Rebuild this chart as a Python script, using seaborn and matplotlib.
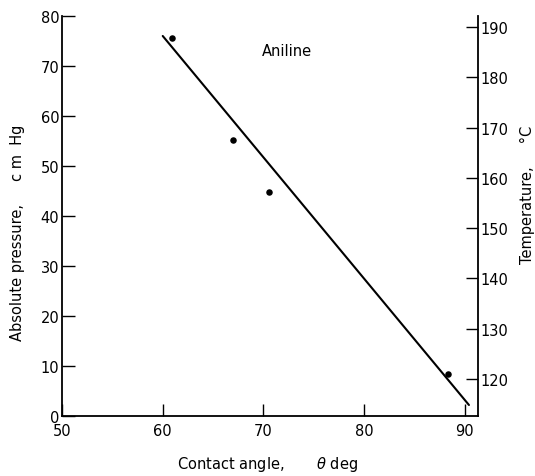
import pandas as pd
import matplotlib.pyplot as plt
import seaborn as sns

# measured points (contact angle, absolute pressure)
angle = [60.9, 67.0, 70.5, 88.3]
pressure = [75.6, 55.2, 44.8, 8.4]

# fitted straight line
line_angle = [60.0, 90.4]
line_pressure = [76.0, 2.2]

x_ticks = [50, 60, 70, 80, 90]
p_ticks = [0, 10, 20, 30, 40, 50, 60, 70, 80]
t_ticks = [120, 130, 140, 150, 160, 170, 180, 190]


def main():
    sns.set_style("ticks")
    plt.rcParams['font.family'] = ['DejaVu Sans']
    plt.rcParams['text.color'] = 'black'
    plt.rcParams['axes.labelcolor'] = 'black'
    plt.rcParams['xtick.color'] = 'black'
    plt.rcParams['ytick.color'] = 'black'
    plt.rcParams['axes.edgecolor'] = 'black'

    pts = pd.DataFrame({'angle': angle, 'pressure': pressure})
    fit = pd.DataFrame({'angle': line_angle, 'pressure': line_pressure})

    fig = plt.figure(figsize=(5.35, 4.77), dpi=100)
    ax = fig.add_axes([0.1159, 0.1258, 0.7776, 0.8386])

    sns.lineplot(data=fit, x='angle', y='pressure', ax=ax, color='black', linewidth=1.5)
    sns.scatterplot(data=pts, x='angle', y='pressure', ax=ax, color='black', s=22,
                    edgecolor='black', linewidth=0)

    ax.set_xlim(50, 91.3)
    ax.set_ylim(0, 80)
    ax.set_xticks(x_ticks)
    ax.set_yticks(p_ticks)
    ax.tick_params(axis='y', direction='in', length=9, width=1, pad=2, labelsize=10.5)
    ax.tick_params(axis='x', direction='in', length=9, width=1, pad=5, labelsize=10.5)
    for s in ['top', 'right']:
        ax.spines[s].set_visible(False)
    for s in ['left', 'bottom']:
        ax.spines[s].set_linewidth(1.3)

    ax.set_xlabel('Contact angle,       $\\theta$ deg', fontsize=10.5, va='center')
    ax.xaxis.set_label_coords(0.495, -0.12)
    ax.set_ylabel('Absolute pressure,     c m  Hg', fontsize=10.5, va='center')
    ax.yaxis.set_label_coords(-0.106, 0.46)

    ax.text(72.3, 73, 'Aniline', ha='center', va='center', fontsize=10.5)

    ax2 = ax.twinx()
    ax2.set_ylim(112.6, 192.2)
    ax2.set_yticks(t_ticks)
    ax2.tick_params(axis='y', direction='in', length=9, width=1, pad=2, labelsize=10.5)
    for s in ['top', 'left', 'bottom']:
        ax2.spines[s].set_visible(False)
    ax2.spines['right'].set_linewidth(1.3)
    ax2.set_ylabel('Temperature,     °C', fontsize=10.5, va='center')
    ax2.yaxis.set_label_coords(1.12, 0.555)

    plt.savefig('out.png', dpi=100)


if __name__ == "__main__":
    main()
